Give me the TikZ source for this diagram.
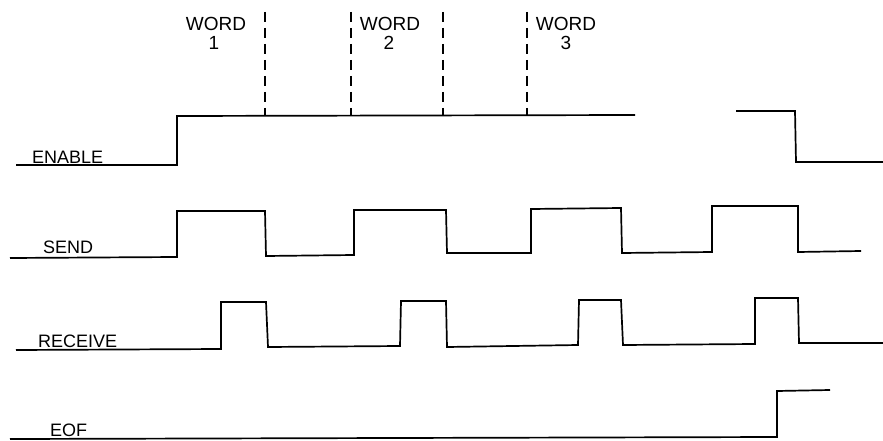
\documentclass[tikz,border=0pt]{standalone}
\usepackage{fontspec}
\setmainfont{Liberation Sans}
\begin{document}
\begin{tikzpicture}[x=1pt,y=-1pt,
  sig/.style={line width=1.7pt,line join=miter},
  marker/.style={line width=1.5pt,dash pattern=on 10pt off 6pt},
  lbl/.style={font=\fontsize{18}{18}\selectfont,inner sep=0pt,anchor=base west},
  wrd/.style={font=\fontsize{19}{19}\selectfont,inner sep=0pt,anchor=base}]
\useasboundingbox (0,0) rectangle (883,441);
% labels
\node[lbl] (en) at (32,164) {ENABLE};
\node[lbl] (se) at (43,253) {SEND};
\node[lbl] (re) at (38,347) {RECEIVE};
\node[lbl] (eo) at (50,436) {EOF};
\node[wrd] (w1) at (216,31) {WORD};
\node[wrd] (n1) at (214,50) {1};
\node[wrd] (w2) at (390,31) {WORD};
\node[wrd] (n2) at (389,50) {2};
\node[wrd] (w3) at (566,31) {WORD};
\node[wrd] (n3) at (566,50) {3};
% dashed word boundaries
\draw[marker] (265,12) -- (265,116);
\draw[marker] (351,12) -- (351,116);
\draw[marker] (443,12) -- (443,116);
\draw[marker] (527,12) -- (527,116);
% ENABLE
\draw[sig] (16,165) -- (177,165) -- (177,116) -- (635,115);
\draw[sig] (736,111) -- (795,111) -- (796,162) -- (883,162);
% SEND
\draw[sig] (10,258) -- (177,257) -- (177,211) -- (265,211) -- (266,256)
  -- (354,255) -- (354,210) -- (446,210) -- (447,253) -- (531,253)
  -- (531,209) -- (621,208) -- (622,253) -- (712,252) -- (712,206)
  -- (798,206) -- (798,252) -- (861,251);
% RECEIVE
\draw[sig] (16,350) -- (221,349) -- (221,302) -- (266,302) -- (268,347)
  -- (400,346) -- (401,301) -- (446,301) -- (447,347) -- (578,345)
  -- (579,300) -- (621,300) -- (623,345) -- (755,344) -- (755,298)
  -- (798,298) -- (799,343) -- (883,343);
% EOF
\draw[sig] (10,439) -- (777,437) -- (777,391) -- (830,390);
\end{tikzpicture}
\end{document}
